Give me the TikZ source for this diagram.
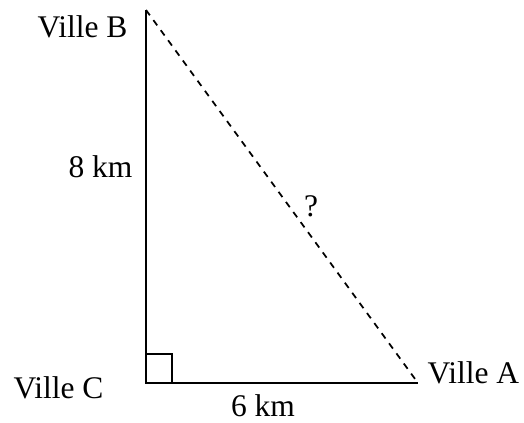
\documentclass[tikz,border=0pt]{standalone}
\usepackage{fontspec}
\setmainfont{Liberation Serif}
\usepackage{tikz}
\usepackage{xcolor}
\definecolor{LineDark}{HTML}{000000}
\definecolor{TextDark}{HTML}{000000}

\tikzset{
  Beschriftung/.style={text=TextDark, font=\fontsize{12.6}{15}\selectfont, inner sep=0pt},
  Kathete/.style={draw=LineDark, line width=0.8pt},
  Hypotenuse/.style={draw=LineDark, line width=0.7pt, dash pattern=on 2.6pt off 2.4pt}
}

\begin{document}
\begin{tikzpicture}[x=0.4pt, y=-0.4pt]

  % Rahmen (524 x 422 px)
  \useasboundingbox (0,0) rectangle (524,422);

  % Eckpunkte des Dreiecks
  \coordinate (VilleB) at (146,10);
  \coordinate (VilleC) at (146,383);
  \coordinate (VilleA) at (418,383);

  % Seiten
  \draw[Kathete] (VilleB) -- (VilleC) -- (VilleA);
  \draw[Hypotenuse] (VilleB) -- (VilleA);

  % Rechter Winkel
  \draw[Kathete] (VilleC) rectangle ++(26,-29);

  % Beschriftungen
  \node[Beschriftung, anchor=base east] (labB) at (128,37) {Ville B};
  \node[Beschriftung, anchor=base west] (labC) at (13,398) {Ville C};
  \node[Beschriftung, anchor=base west] (labA) at (427,383) {Ville A};
  \node[Beschriftung, anchor=base east] (labBC) at (133,177) {8 km};
  \node[Beschriftung, anchor=base] (labCA) at (263,416) {6 km};
  \node[Beschriftung, anchor=base] (labAB) at (311,216) {?};

\end{tikzpicture}
\end{document}
